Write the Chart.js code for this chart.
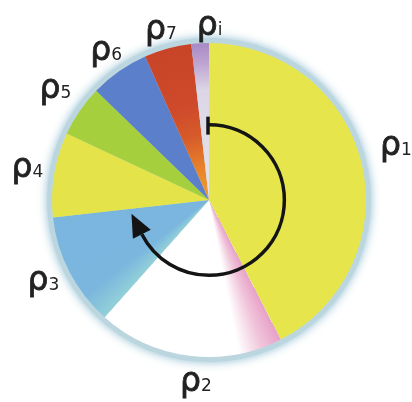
<!DOCTYPE html>
<html>
<head>
<meta charset="utf-8">
<script src="https://cdn.jsdelivr.net/npm/chart.js@4"></script>
<style>
  html, body { margin: 0; padding: 0; background: #fff; }
  canvas { display: block; }
</style>
</head>
<body>
<canvas id="pieChart" width="412" height="402"></canvas>
<script>
// subscripts of the ρ labels, clockwise from the top
const labels = ['1', '2', '3', '4', '5', '6', '7', 'i'];
// slice sizes in degrees
const values = [153, 69, 42, 31.5, 19, 22, 17.5, 6.5];
const colors = ['#e6e64c', '#ffffff', '#78b2de', '#e4e44a', '#a6cf3e', '#5b7fcb', '#cf4a2a', '#b898cc'];

const total = values.reduce((a, b) => a + b, 0);

function sliceStart(i) {
    let sum = 0;
    for (let k = 0; k < i; k++) sum += values[k];
    return -Math.PI / 2 + sum / total * 2 * Math.PI;
}

function sliceColor(context) {
    const i = context.dataIndex;
    const chart = context.chart;
    const area = chart.chartArea;
    if (!area) return colors[i];
    const c = chart.ctx;
    const cx = (area.left + area.right) / 2;
    const cy = (area.top + area.bottom) / 2;
    const r = Math.min(area.width, area.height) / 2;

    if (i === 1) {
        // white slice with a pink fringe next to ρ1
        const g = c.createConicGradient(sliceStart(1), cx, cy);
        g.addColorStop(0, 'rgb(232,160,200)');
        g.addColorStop(0.02, 'rgb(240,196,218)');
        g.addColorStop(0.045, '#ffffff');
        g.addColorStop(1, '#ffffff');
        return g;
    }
    if (i === 2) {
        const g = c.createConicGradient(sliceStart(2), cx, cy);
        g.addColorStop(0, '#92d0d8');
        g.addColorStop(0.03, '#7ab6de');
        g.addColorStop(1, '#76b0de');
        return g;
    }
    if (i === 6) {
        const g = c.createRadialGradient(cx, cy, 0, cx, cy, r);
        g.addColorStop(0, '#f0a030');
        g.addColorStop(0.2, '#e8842a');
        g.addColorStop(0.42, '#d65a2a');
        g.addColorStop(0.6, '#cf4a2a');
        g.addColorStop(1, '#c84428');
        return g;
    }
    if (i === 7) {
        const g = c.createRadialGradient(cx, cy, 0, cx, cy, r);
        g.addColorStop(0, '#e4e4ec');
        g.addColorStop(0.7, '#dcd6e6');
        g.addColorStop(0.88, '#bca2d0');
        g.addColorStop(1, '#a88ac4');
        return g;
    }
    return colors[i];
}

// soft bluish halo round the disc
const haloPlugin = {
    id: 'halo',
    beforeDatasetsDraw(chart) {
        const arc = chart.getDatasetMeta(0).data[0];
        if (!arc) return;
        const ctx = chart.ctx;
        ctx.save();
        ctx.beginPath();
        ctx.arc(arc.x, arc.y, arc.outerRadius + 5, 0, Math.PI * 2);
        ctx.fillStyle = '#bcd6e0';
        ctx.shadowColor = 'rgba(120,176,200,0.85)';
        ctx.shadowBlur = 10;
        ctx.fill();
        ctx.restore();
    }
};

// the curved arrow in the middle
const arrowPlugin = {
    id: 'arrow',
    afterDatasetsDraw(chart) {
        const arc = chart.getDatasetMeta(0).data[0];
        if (!arc) return;
        const ctx = chart.ctx;
        const r = arc.outerRadius * 0.48;
        const a0 = -Math.PI / 2;
        const a1 = a0 + 243 * Math.PI / 180;
        ctx.save();
        ctx.strokeStyle = '#141414';
        ctx.fillStyle = '#141414';
        ctx.lineWidth = 3.5;
        ctx.beginPath();
        ctx.arc(arc.x, arc.y, r, a0, a1);
        ctx.stroke();
        // start tick
        ctx.beginPath();
        ctx.moveTo(arc.x - 1, arc.y - r - 8);
        ctx.lineTo(arc.x - 1, arc.y - r + 10);
        ctx.stroke();
        // arrow head
        const bx = arc.x + Math.cos(a1) * r;
        const by = arc.y + Math.sin(a1) * r;
        const tx = Math.cos(a1 + Math.PI / 2);
        const ty = Math.sin(a1 + Math.PI / 2);
        const nx = Math.cos(a1), ny = Math.sin(a1);
        ctx.beginPath();
        ctx.moveTo(bx + tx * 23, by + ty * 23);
        ctx.lineTo(bx + nx * 10, by + ny * 10);
        ctx.lineTo(bx - nx * 10, by - ny * 10);
        ctx.closePath();
        ctx.fill();
        ctx.restore();
    }
};

// small hand nudges of each label away from the slice middle (px)
const labelNudge = [[9, -7], [10, 4], [-3, 1], [-1, 2], [-3, -3], [2, 5], [0, 11], [11, 13]];

// ρ labels outside each slice
const labelPlugin = {
    id: 'rhoLabels',
    afterDraw(chart) {
        const meta = chart.getDatasetMeta(0);
        const ctx = chart.ctx;
        ctx.save();
        ctx.fillStyle = '#222';
        ctx.strokeStyle = '#222';
        ctx.lineWidth = 0.8;
        ctx.textBaseline = 'alphabetic';
        ctx.textAlign = 'left';
        meta.data.forEach((arc, i) => {
            const mid = (arc.startAngle + arc.endAngle) / 2;
            const d = arc.outerRadius + 26;
            const px = arc.x + Math.cos(mid) * d + labelNudge[i][0];
            const py = arc.y + Math.sin(mid) * d + labelNudge[i][1];
            ctx.font = '33px "DejaVu Sans"';
            const w1 = ctx.measureText('ρ').width;
            ctx.font = '17px "DejaVu Sans"';
            const w2 = ctx.measureText(labels[i]).width;
            const x0 = px - (w1 + w2) / 2;
            const base = py + 5;
            ctx.font = '33px "DejaVu Sans"';
            ctx.fillText('ρ', x0, base);
            ctx.strokeText('ρ', x0, base);
            ctx.font = '17px "DejaVu Sans"';
            ctx.fillText(labels[i], x0 + w1, base);
        });
        ctx.restore();
    }
};

new Chart(document.getElementById('pieChart'), {
    type: 'pie',
    data: {
        labels: labels.map(s => 'ρ' + s),
        datasets: [{
            data: values,
            backgroundColor: sliceColor,
            borderWidth: 0
        }]
    },
    options: {
        responsive: false,
        animation: false,
        layout: { padding: { left: 52, right: 46, top: 43, bottom: 45 } },
        plugins: {
            legend: { display: false },
            tooltip: { enabled: false }
        }
    },
    plugins: [haloPlugin, arrowPlugin, labelPlugin]
});
</script>
</body>
</html>
